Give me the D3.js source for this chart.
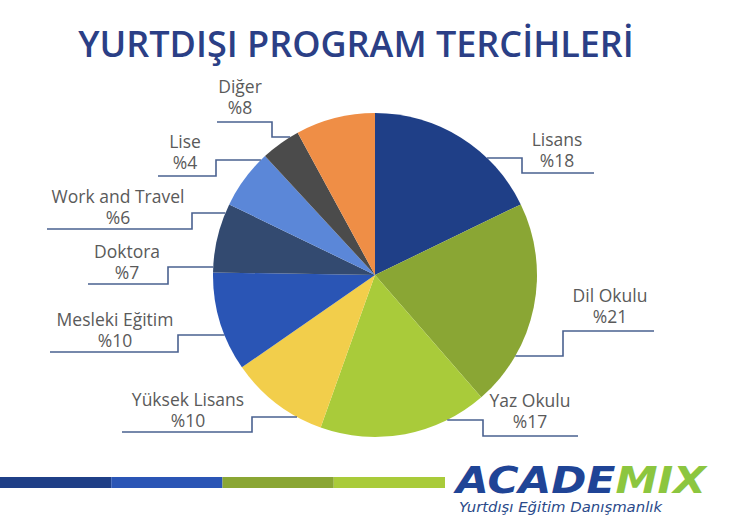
<!DOCTYPE html>
<html><head><meta charset="utf-8">
<script src="https://cdn.jsdelivr.net/npm/d3@7"></script>
<style>
html,body{margin:0;padding:0;background:#fff;}
svg{display:block;}
</style></head>
<body>
<svg id="chart" width="740" height="528"></svg>
<script>
// ---- data ----
const categories = ["Lisans","Dil Okulu","Yaz Okulu","Yüksek Lisans","Mesleki Eğitim","Doktora","Work and Travel","Lise","Diğer"];
const values = [18,21,17,10,10,7,6,4,8];
const colors = ["#1f3f87","#8aa634","#a9cb3a","#f2ce4b","#2a55b5","#334a70","#5b87d8","#4b4b4b","#ef8e46"];
const titleText = "YURTDIŞI PROGRAM TERCİHLERİ";

// ---- label layout (positions only) ----
const labelLayout = [
  {side:"r", tx:557, ty:146, lineY:173, stepX:522, elbowY:158, endX:594},
  {side:"r", tx:610, ty:302, lineY:331, stepX:563, elbowY:356, endX:654},
  {side:"r", tx:530, ty:407, lineY:436, stepX:483, elbowY:420, endX:578},
  {side:"l", tx:188, ty:406, lineY:432, stepX:252, elbowY:417, endX:122},
  {side:"l", tx:115, ty:326, lineY:352, stepX:178, elbowY:335, endX:50},
  {side:"l", tx:127, ty:258, lineY:284, stepX:168, elbowY:267, endX:88},
  {side:"l", tx:118, ty:203, lineY:229, stepX:192, elbowY:213, endX:47},
  {side:"l", tx:185, ty:148, lineY:176, stepX:216, elbowY:160, endX:158},
  {side:"l", tx:240, ty:93,  lineY:122, stepX:272, elbowY:137, endX:217}
];

const svg = d3.select("#chart");
const cx = 375, cy = 275, R = 162;

// title
svg.append("text")
  .attr("x", 356).attr("y", 57)
  .attr("text-anchor","middle")
  .attr("font-family","'Open Sans', 'Noto Sans', sans-serif")
  .attr("font-weight", 600)
  .attr("font-size", 36)
  .attr("fill","#2b3f86")
  .text(titleText);

// pie
const data = categories.map((c,i)=>({name:c, value:values[i], color:colors[i], layout:labelLayout[i]}));
const pie = d3.pie().value(d=>d.value).sort(null);
const arc = d3.arc().innerRadius(0).outerRadius(R);
const g = svg.append("g").attr("transform",`translate(${cx},${cy})`);
g.selectAll("path").data(pie(data)).join("path")
  .attr("d", arc)
  .attr("fill", d=>d.data.color);

// leaders
const lineColor = "#4a6190";
data.forEach(d=>{
  const L = d.layout;
  const dy = L.elbowY - cy;
  const dx = Math.sqrt(R*R - dy*dy);
  const ax = cx + (L.side==="r" ? dx : -dx);
  const pts = [[ax, L.elbowY],[L.stepX, L.elbowY],[L.stepX, L.lineY],[L.endX, L.lineY]];
  svg.append("path")
    .attr("d", d3.line()(pts))
    .attr("fill","none")
    .attr("stroke", lineColor)
    .attr("stroke-width", 1.6);
  [d.name, "%" + d.value].forEach((s,k)=>{
    svg.append("text")
      .attr("x", L.tx).attr("y", L.ty + k*21)
      .attr("text-anchor","middle")
      .attr("font-family","'Open Sans', 'Noto Sans', sans-serif")
      .attr("font-size", 17.5)
      .attr("fill","#5a5a5a")
      .text(s);
  });
});

// bottom bar
const barColors = ["#1f3f87","#2a55b5","#8aa634","#a9cb3a"];
const bx = d3.scaleLinear().domain([0,4]).range([0,445]);
svg.selectAll("rect.bar").data(barColors).join("rect")
  .attr("class","bar")
  .attr("x",(d,i)=>bx(i)).attr("y",477)
  .attr("width",(d,i)=>bx(i+1)-bx(i)).attr("height",11)
  .attr("fill",d=>d);

// logo
const logo = svg.append("text")
  .attr("x", 456).attr("y", 493)
  .attr("font-family","'DejaVu Sans', sans-serif")
  .attr("font-weight", 700)
  .attr("font-style","italic")
  .attr("font-size", 37)
  .attr("textLength", 250)
  .attr("lengthAdjust","spacingAndGlyphs");
logo.append("tspan").attr("fill","#1f4496").text("ACADE");
logo.append("tspan").attr("fill","#8cc63f").text("MIX");
svg.append("text")
  .attr("x", 459).attr("y", 512)
  .attr("font-family","'DejaVu Sans', sans-serif")
  .attr("font-style","italic")
  .attr("font-size", 14)
  .attr("textLength", 203)
  .attr("lengthAdjust","spacingAndGlyphs")
  .attr("fill","#2a4a8a")
  .text("Yurtdışı Eğitim Danışmanlık");
</script>
</body></html>
